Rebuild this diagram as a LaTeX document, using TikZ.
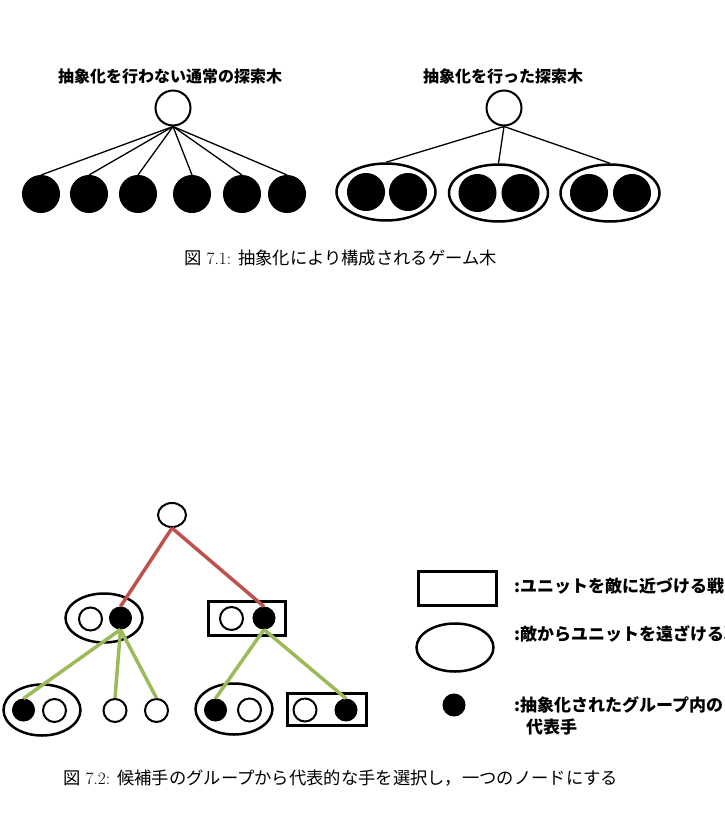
\documentclass[tikz,border=0pt]{standalone}
\usepackage{fontspec}
\usepackage{xcolor}
\usepackage{tikz}
\usetikzlibrary{shapes.geometric}
\newfontfamily\jpfont{Noto Sans CJK JP}
\newcommand\jp[1]{{\jpfont #1}}
\definecolor{edgered}{HTML}{C0504D}
\definecolor{edgegreen}{HTML}{9BBB59}
\tikzset{
  headtext/.style={font=\jpfont\bfseries\fontsize{16}{20}\selectfont, inner sep=0pt},
  legtext/.style={font=\jpfont\bfseries\fontsize{17}{21}\selectfont, inner sep=0pt, anchor=west},
  captext/.style={font=\fontsize{17.3}{21}\selectfont, inner sep=0pt, anchor=west},
  opennode/.style={circle, draw=black, fill=white, line width=2pt, inner sep=0pt, minimum size=35pt},
  fullnode/.style={circle, draw=black, fill=black, line width=1pt, inner sep=0pt, minimum size=37pt},
  grpoval/.style={ellipse, draw=black, line width=2.5pt, inner sep=0pt, minimum width=99pt, minimum height=57pt},
  treeedge/.style={line width=1.3pt, draw=black},
  rootoval/.style={ellipse, draw=black, fill=white, line width=2pt, inner sep=0pt, minimum width=28pt, minimum height=24pt},
  midoval/.style={ellipse, draw=black, line width=2.5pt, inner sep=0pt, minimum width=77pt, minimum height=49pt},
  midbox/.style={rectangle, draw=black, line width=2.5pt, inner sep=0pt, minimum width=77pt, minimum height=34pt},
  lowoval/.style={ellipse, draw=black, line width=2.5pt, inner sep=0pt, minimum width=77pt, minimum height=51pt},
  lowbox/.style={rectangle, draw=black, line width=2.5pt, inner sep=0pt, minimum width=79pt, minimum height=32pt},
  smallopen/.style={circle, draw=black, fill=white, line width=2pt, inner sep=0pt, minimum size=23pt},
  smallfull/.style={circle, draw=black, fill=black, line width=1pt, inner sep=0pt, minimum size=22pt},
  legbox/.style={rectangle, draw=black, line width=2.5pt, inner sep=0pt, minimum width=78pt, minimum height=34pt},
  legoval/.style={ellipse, draw=black, line width=2.5pt, inner sep=0pt, minimum width=77pt, minimum height=48pt},
  redge/.style={line width=3.5pt, draw=edgered},
  gedge/.style={line width=3.5pt, draw=edgegreen},
}

\begin{document}
\begin{tikzpicture}[x=1pt,y=-1pt]
\useasboundingbox (0,0) rectangle (725,814);
% plain search tree
\node[headtext] (hl) at (170,76) {抽象化を行わない通常の探索木};
\node[opennode] (rl) at (173,108) {};
\node[fullnode] (a1) at (41,194) {};
\node[fullnode] (a2) at (89,194) {};
\node[fullnode] (a3) at (138,194) {};
\node[fullnode] (a4) at (192,194) {};
\node[fullnode] (a5) at (242,194) {};
\node[fullnode] (a6) at (287,194) {};
\draw[treeedge] (rl.south) -- (a1.north);
\draw[treeedge] (rl.south) -- (a2.north);
\draw[treeedge] (rl.south) -- (a3.north);
\draw[treeedge] (rl.south) -- (a4.north);
\draw[treeedge] (rl.south) -- (a5.north);
\draw[treeedge] (rl.south) -- (a6.north);
% abstracted search tree
\node[headtext] (hr) at (503,76) {抽象化を行った探索木};
\node[opennode] (rr) at (504,108) {};
\node[grpoval] (g1) at (386,192) {};
\node[grpoval] (g2) at (498.5,193) {};
\node[grpoval] (g3) at (610,193) {};
\node[fullnode] (g1a) at (366,192) {};
\node[fullnode] (g1b) at (408,192) {};
\node[fullnode] (g2a) at (477.5,193) {};
\node[fullnode] (g2b) at (520.5,193) {};
\node[fullnode] (g3a) at (589,193) {};
\node[fullnode] (g3b) at (632,193) {};
\draw[treeedge] (rr.south) -- (g1.north);
\draw[treeedge] (rr.south) -- (g2.north);
\draw[treeedge] (rr.south) -- (g3.north);
\node[captext] (c1) at (184,258) {\jp{図}~7.1: \jp{抽象化により構成されるゲーム木}};
% representative moves
\node[rootoval] (s0) at (172,515) {};
\node[midoval] (m1) at (104,618) {};
\node[smallopen] (m1w) at (90.5,619) {};
\node[smallfull] (m1b) at (120.5,618) {};
\node[midbox] (m2) at (247,618.5) {};
\node[smallopen] (m2w) at (231.5,618.5) {};
\node[smallfull] (m2b) at (264,618) {};
\node[lowoval] (b1) at (42,710) {};
\node[smallfull] (b1b) at (23.5,710) {};
\node[smallopen] (b1w) at (54.5,710.5) {};
\node[smallopen] (b2) at (115,710.5) {};
\node[smallopen] (b3) at (156.5,710.5) {};
\node[lowoval] (b4) at (234,709) {};
\node[smallfull] (b4b) at (215.5,710) {};
\node[smallopen] (b4w) at (249.5,710) {};
\node[lowbox] (b5) at (327,709.5) {};
\node[smallopen] (b5w) at (305,710) {};
\node[smallfull] (b5b) at (346,710) {};
\draw[redge] (s0.south) -- (m1b.north);
\draw[redge] (s0.south) -- (m2b.north);
\draw[gedge] (m1b.south) -- (b1b.north);
\draw[gedge] (m1b.south) -- (b2.north);
\draw[gedge] (m1b.south) -- (b3.north);
\draw[gedge] (m2b.south) -- (b4b.north);
\draw[gedge] (m2b.south) -- (b5b.north);
% legend
\node[legbox] (k1) at (457.5,588.5) {};
\node[legoval] (k2) at (455,647.5) {};
\node[smallfull] (k3) at (454,705) {};
\node[legtext] (k1t) at (514,586) {:ユニットを敵に近づける戦};
\node[legtext] (k2t) at (514,634) {:敵からユニットを遠ざける戦};
\node[legtext] (k3t) at (514,704.5) {:抽象化されたグループ内の};
\node[legtext] (k3u) at (526,727) {代表手};
\node[captext] (c2) at (63,778) {\jp{図}~7.2: \jp{候補手のグループから代表的な手を選択し，一つのノードにする}};
\end{tikzpicture}
\end{document}
